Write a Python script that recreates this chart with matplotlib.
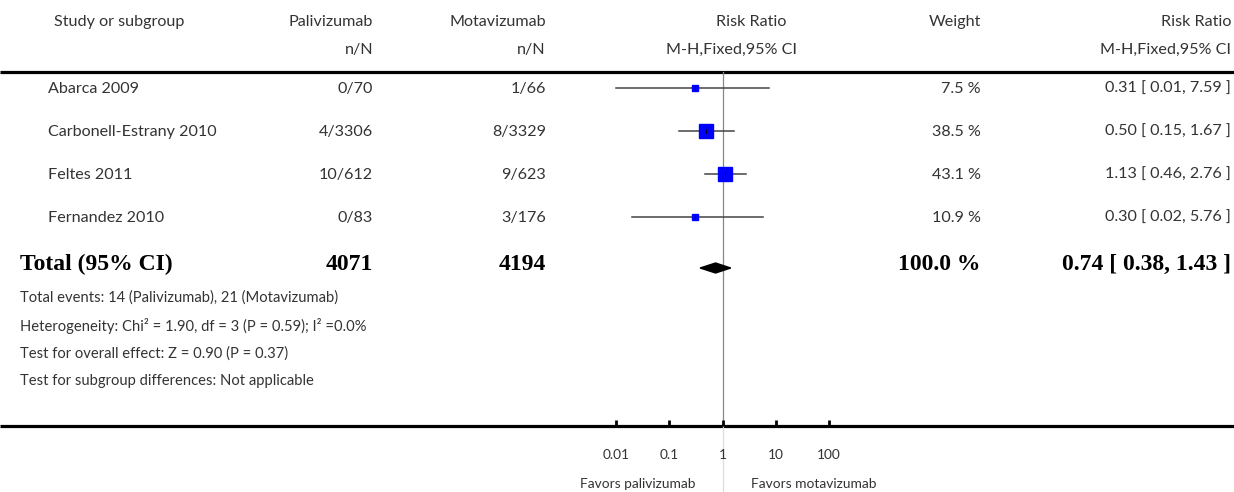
import numpy as np
import matplotlib.pyplot as plt
from matplotlib.patches import Polygon

# study rows
studies = ["Abarca 2009", "Carbonell-Estrany 2010", "Feltes 2011", "Fernandez 2010"]
pali_nN = ["0/70", "4/3306", "10/612", "0/83"]
mota_nN = ["1/66", "8/3329", "9/623", "3/176"]
rr = [0.31, 0.50, 1.13, 0.30]
ci_lo = [0.01, 0.15, 0.46, 0.02]
ci_hi = [7.59, 1.67, 2.76, 5.76]
weight = [7.5, 38.5, 43.1, 10.9]
rr_text = ["0.31 [ 0.01, 7.59 ]", "0.50 [ 0.15, 1.67 ]", "1.13 [ 0.46, 2.76 ]", "0.30 [ 0.02, 5.76 ]"]

# pooled
total_pali = "4071"
total_mota = "4194"
total_rr = 0.74
total_lo = 0.38
total_hi = 1.43
total_weight = "100.0 %"
total_text = "0.74 [ 0.38, 1.43 ]"

footnotes = ["Total events: 14 (Palivizumab), 21 (Motavizumab)",
             "Heterogeneity: Chi² = 1.90, df = 3 (P = 0.59); I² =0.0%",
             "Test for overall effect: Z = 0.90 (P = 0.37)",
             "Test for subgroup differences: Not applicable"]

ticks = [0.01, 0.1, 1, 10, 100]
tick_labels = ["0.01", "0.1", "1", "10", "100"]

W, H = 1234, 492
fig = plt.figure(figsize=(W / 100, H / 100), dpi=100)
plt.rcParams['font.family'] = ['Lato', 'DejaVu Sans']
txtc = '#333333'
fs = 11.6
reg = dict(fontsize=fs, color=txtc)

# whole-figure axes in pixel coordinates for the table text
ax = fig.add_axes([0, 0, 1, 1])
ax.set_xlim(0, W)
ax.set_ylim(H, 0)
ax.axis('off')

# forest plot axes: 0.01 at x=616px, 100 at x=829px
x0, x1 = 616, 829
fx = fig.add_axes([x0 / W, 0, (x1 - x0) / W, 1])
fx.set_xscale('log')
fx.set_xlim(0.01, 100)
fx.set_ylim(H, 0)
fx.axis('off')

# header
ax.text(54, 22, "Study or subgroup", ha='left', va='center', **reg)
ax.text(373, 22, "Palivizumab", ha='right', va='center', **reg)
ax.text(546, 22, "Motavizumab", ha='right', va='center', **reg)
ax.text(786, 22, "Risk Ratio", ha='right', va='center', **reg)
ax.text(981, 22, "Weight", ha='right', va='center', **reg)
ax.text(1231, 22, "Risk Ratio", ha='right', va='center', **reg)
ax.text(373, 50, "n/N", ha='right', va='center', **reg)
ax.text(546, 50, "n/N", ha='right', va='center', **reg)
ax.text(797, 50, "M-H,Fixed,95% CI", ha='right', va='center', **reg)
ax.text(1231, 50, "M-H,Fixed,95% CI", ha='right', va='center', **reg)

ax.plot([0, W], [72, 72], color='black', lw=2.3, solid_capstyle='butt')
ax.plot([0, W], [426, 426], color='black', lw=2.3, solid_capstyle='butt')

row_y = [89, 132, 175, 218]
for i in range(len(studies)):
    y = row_y[i]
    ax.text(48, y, studies[i], ha='left', va='center', **reg)
    ax.text(373, y, pali_nN[i], ha='right', va='center', **reg)
    ax.text(546, y, mota_nN[i], ha='right', va='center', **reg)
    ax.text(981, y, "%.1f %%" % weight[i], ha='right', va='center', **reg)
    ax.text(1231, y, rr_text[i], ha='right', va='center', **reg)
    # CI line and weighted square
    fx.plot([ci_lo[i], ci_hi[i]], [y - 1, y - 1], color='#444444', lw=1.1, clip_on=False, zorder=3)
    side = 2.1 * np.sqrt(weight[i])
    fx.plot([rr[i]], [y - 1], marker='s', ms=side * 0.72, color='#0000ff', mec='#0000ff', clip_on=False, zorder=4)
    fx.plot([rr[i], rr[i]], [y - 3, y + 1], color='black', lw=0.6, clip_on=False, zorder=5)

# total row
ty = 264
bfont = dict(family='Liberation Serif', fontweight='bold', fontsize=17, color='black')
ax.text(20, ty, "Total (95% CI)", ha='left', va='center', **bfont)
ax.text(373, ty, total_pali, ha='right', va='center', **bfont)
ax.text(546, ty, total_mota, ha='right', va='center', **bfont)
ax.text(981, ty, total_weight, ha='right', va='center', **bfont)
ax.text(1231, ty, total_text, ha='right', va='center', **bfont)
dy = 268
fx.add_patch(Polygon([[total_lo, dy], [total_rr, dy - 5], [total_hi, dy], [total_rr, dy + 5]],
                     closed=True, color='black', clip_on=False, zorder=4))

# footnotes
for j, line in enumerate(footnotes):
    ax.text(20, 298 + j * 27.7, line, ha='left', va='center', fontsize=10.6, color=txtc)

# line of no effect
fx.plot([1, 1], [72, 426], color='#888888', lw=0.9, zorder=2)
fx.plot([1, 1], [426, H], color='#dddddd', lw=0.9, zorder=1)

# axis ticks and labels
for t, lab in zip(ticks, tick_labels):
    fx.plot([t, t], [420, 426], color='black', lw=2.0, solid_capstyle='butt', clip_on=False)
    fx.text(t, 455, lab, ha='center', va='center', fontsize=9.9, color=txtc)
fx.text(0.31, 484, "Favors palivizumab", ha='right', va='center', fontsize=9.9, color=txtc)
fx.text(3.36, 484, "Favors motavizumab", ha='left', va='center', fontsize=9.9, color=txtc)

fig.savefig("out.png", dpi=100)
